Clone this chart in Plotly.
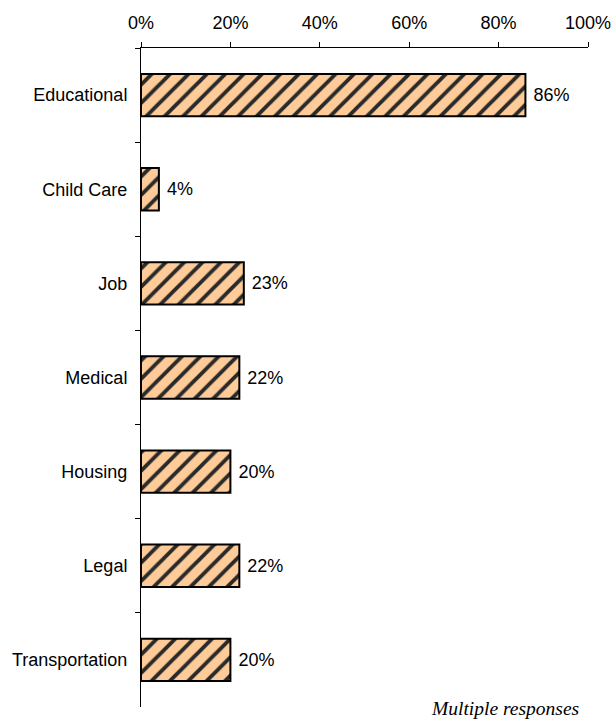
import plotly.graph_objects as go

categories = ["Educational", "Child Care", "Job", "Medical", "Housing", "Legal", "Transportation"]
values = [86, 4, 23, 22, 20, 22, 20]
tick_vals = [0, 20, 40, 60, 80, 100]
tick_text = ["0%", "20%", "40%", "60%", "80%", "100%"]

FONT = "Arial, Liberation Sans, sans-serif"

fig = go.Figure(go.Bar(
    y=categories, x=values, orientation="h", width=0.45,
    marker=dict(color="#FFCC99", line=dict(color="black", width=2),
                pattern=dict(shape="/", fgcolor="#2a2a2a", bgcolor="#FFCC99", fgopacity=1,
                             size=13, solidity=0.3)),
    text=[f"\u00a0{v}%" for v in values], textposition="outside", cliponaxis=False,
    textfont=dict(family=FONT, size=18, color="black"),
    hoverinfo="skip",
))

fig.update_layout(
    width=614, height=719, plot_bgcolor="white", paper_bgcolor="white",
    margin=dict(l=141, r=26, t=48, b=12),
    showlegend=False,
    font=dict(family=FONT, size=18, color="black"),
    xaxis=dict(side="top", range=[0, 100], tickvals=tick_vals, ticktext=tick_text, automargin=False,
               showgrid=False, zeroline=False, showline=True, linecolor="black", linewidth=1,
               ticks="outside", ticklen=5, tickcolor="black", ticklabelstandoff=6),
    yaxis=dict(autorange="reversed", showgrid=False, showline=True, linecolor="black", linewidth=1,
               automargin=False, ticks="outside", tickson="boundaries", ticklen=5, tickcolor="black",
               ticklabelstandoff=9),
    annotations=[dict(text="<i>Multiple responses</i>", xref="paper", yref="paper", x=0.985, y=-0.002,
                      xanchor="right", yanchor="middle", showarrow=False,
                      font=dict(family="Liberation Serif, Times New Roman, serif", size=19.5, color="black"))],
)

fig.write_html("out.html", config={"displayModeBar": False},
               post_script="document.body.style.margin='0';document.body.style.overflow='hidden';")
